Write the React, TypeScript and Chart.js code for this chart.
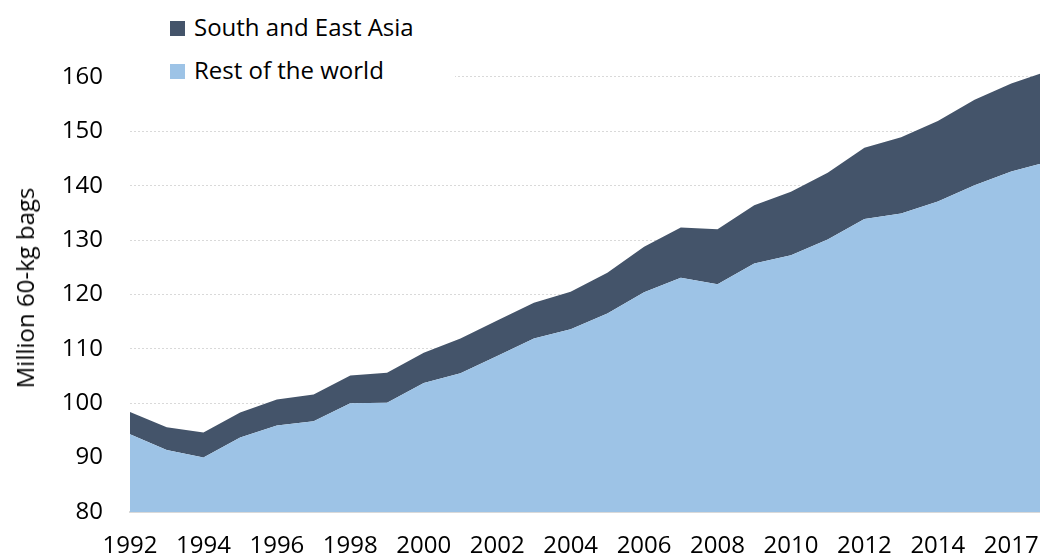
import React, { useEffect, useRef } from "react";
import { Chart, registerables } from "chart.js";

Chart.register(...registerables);

// ---- data ----
const years: string[] = [
  "1992", "1993", "1994", "1995", "1996", "1997", "1998", "1999", "2000",
  "2001", "2002", "2003", "2004", "2005", "2006", "2007", "2008", "2009",
  "2010", "2011", "2012", "2013", "2014", "2015", "2016", "2017",
];
// tick labels as printed under every second category
const xTickLabels: string[] = [
  "1992", "1994", "1996", "1998", "2000", "2002", "2004", "2006",
  "2008", "2010", "2012", "2014", "2017",
];
const restOfWorld: number[] = [
  94.3, 91.4, 90.0, 93.7, 95.9, 96.7, 100.0, 100.1, 103.7,
  105.5, 108.7, 111.9, 113.6, 116.5, 120.4, 123.1, 121.9, 125.7,
  127.2, 130.1, 133.9, 134.9, 137.1, 140.1, 142.6, 144.4,
];
const southEastAsia: number[] = [
  4.1, 4.2, 4.6, 4.6, 4.8, 4.9, 5.1, 5.5, 5.6,
  6.4, 6.5, 6.6, 6.9, 7.5, 8.4, 9.2, 10.1, 10.7,
  11.7, 12.3, 13.1, 14.0, 14.8, 15.7, 16.2, 16.7,
];
const yTicks: number[] = [80, 90, 100, 110, 120, 130, 140, 150, 160];
const seriesNames: string[] = ["South and East Asia", "Rest of the world"];
const seriesColors: string[] = ["#44546A", "#9DC3E6"];
const yTitle = "Million 60-kg bags";

const FONT = "'Open Sans', 'DejaVu Sans', sans-serif";

export default function App() {
  const canvasRef = useRef<HTMLCanvasElement | null>(null);

  useEffect(() => {
    const canvas = canvasRef.current;
    if (!canvas) return;
    const chart = new Chart(canvas, {
      type: "line",
      data: {
        labels: years,
        datasets: [
          {
            label: seriesNames[1],
            data: restOfWorld,
            backgroundColor: seriesColors[1],
            borderColor: seriesColors[1],
            borderWidth: 0,
            pointRadius: 0,
            fill: "origin",
            tension: 0,
          },
          {
            label: seriesNames[0],
            data: southEastAsia,
            backgroundColor: seriesColors[0],
            borderColor: seriesColors[0],
            borderWidth: 0,
            pointRadius: 0,
            fill: "-1",
            tension: 0,
          },
        ],
      },
      options: {
        responsive: false,
        animation: false,
        layout: {
          padding: { left: 0, right: 2, top: 22.6, bottom: 0 },
        },
        plugins: {
          legend: { display: false },
          tooltip: { enabled: false },
        },
        scales: {
          x: {
            type: "category",
            offset: false,
            grid: { display: false, drawTicks: false },
            border: { display: true, color: "#D9D9D9", width: 2 },
            ticks: {
              autoSkip: false,
              maxRotation: 0,
              minRotation: 0,
              padding: 20,
              color: "#000000",
              font: { family: FONT, size: 24 },
              callback: (_v: any, i: number) =>
                i % 2 === 0 && xTickLabels[i / 2] ? xTickLabels[i / 2] : "",
            },
            afterFit: (scale: any) => {
              scale.height = 45;
              scale.paddingLeft = 0;
              scale.paddingRight = 0;
            },
          },
          y: {
            stacked: true,
            min: 80,
            max: 170,
            grid: {
              drawTicks: false,
              color: (ctx: any) =>
                ctx.tick && ctx.tick.value === 80 ? "rgba(0,0,0,0)" : "#D9D9D9",
              lineWidth: 1,
            },
            border: { display: false, dash: [2, 2] },
            ticks: {
              padding: 27,
              color: "#000000",
              font: { family: FONT, size: 24 },
            },
            afterBuildTicks: (scale: any) => {
              scale.ticks = yTicks.map((v) => ({ value: v }));
            },
            afterFit: (scale: any) => {
              scale.width = 130;
              scale.paddingTop = 0;
              scale.paddingBottom = 0;
            },
            title: { display: false },
          },
        },
      },
    });
    return () => chart.destroy();
  }, []);

  const legendRow = (i: number, centerY: number) => (
    <div
      key={i}
      style={{
        position: "absolute",
        left: 170,
        top: centerY - 16,
        height: 32,
        display: "flex",
        alignItems: "center",
        whiteSpace: "nowrap",
      }}
    >
      <div
        style={{
          width: 15,
          height: 15,
          background: seriesColors[i],
          marginRight: 9,
          marginTop: 2,
        }}
      />
      <span
        style={{
          fontFamily: FONT,
          fontSize: 24,
          lineHeight: "32px",
          color: "#000000",
        }}
      >
        {seriesNames[i]}
      </span>
    </div>
  );

  return (
    <div
      style={{
        position: "fixed",
        left: 0,
        top: 0,
        width: 1040,
        height: 557,
        overflow: "hidden",
        background: "#FFFFFF",
      }}
    >
      <canvas
        ref={canvasRef}
        width={1050}
        height={557}
        style={{ position: "absolute", left: 0, top: 0, width: 1050, height: 557 }}
      />
      <div
        style={{
          position: "absolute",
          left: 124,
          top: 4,
          width: 331,
          height: 88,
          background: "#FFFFFF",
        }}
      />
      {legendRow(0, 27)}
      {legendRow(1, 70)}
      <div
        style={{
          position: "absolute",
          left: 25,
          top: 288,
          transform: "translate(-50%, -50%) rotate(-90deg)",
          whiteSpace: "nowrap",
          fontFamily: FONT,
          fontSize: 24,
          lineHeight: "28px",
          color: "#000000",
        }}
      >
        {yTitle}
      </div>
    </div>
  );
}
